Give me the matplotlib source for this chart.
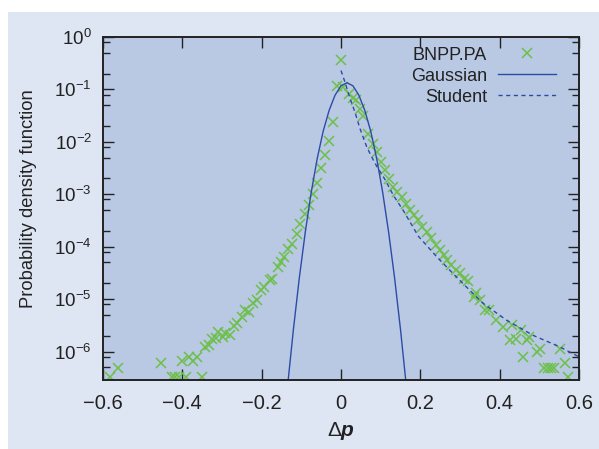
import numpy as np
import matplotlib.pyplot as plt
from matplotlib.ticker import LogLocator, NullFormatter
from matplotlib.patches import Rectangle

plt.rcParams['font.family'] = ['Liberation Sans', 'DejaVu Sans']
plt.rcParams['mathtext.fontset'] = 'custom'
plt.rcParams['mathtext.rm'] = 'Liberation Sans'
plt.rcParams['mathtext.it'] = 'Liberation Sans:italic'
plt.rcParams['mathtext.bf'] = 'Liberation Sans:bold'
plt.rcParams['mathtext.bfit'] = 'Liberation Sans:bold:italic'

# empirical pdf of price changes (x, log10 of density)
bnpp_x = [-0.583, -0.563, -0.453, -0.426, -0.418, -0.409, -0.401, -0.392, -0.382,
          -0.372, -0.363, -0.35, -0.342, -0.334, -0.325, -0.314, -0.309, -0.298,
          -0.292, -0.281, -0.269, -0.262, -0.25, -0.242, -0.231, -0.221, -0.212,
          -0.202, -0.195, -0.18, -0.174, -0.16, -0.151, -0.143, -0.133, -0.124,
          -0.111, -0.103, -0.09, -0.08, -0.07, -0.061, -0.05, -0.04, -0.031,
          -0.021, -0.011, 0.0, 0.006, 0.021, 0.031, 0.039, 0.048, 0.056, 0.069,
          0.08, 0.09, 0.1, 0.111, 0.121, 0.132, 0.142, 0.153, 0.164, 0.174,
          0.184, 0.195, 0.205, 0.216, 0.226, 0.239, 0.249, 0.26, 0.268, 0.278,
          0.289, 0.299, 0.309, 0.32, 0.335, 0.34, 0.351, 0.362, 0.373, 0.392,
          0.408, 0.425, 0.431, 0.44, 0.455, 0.46, 0.47, 0.475, 0.495, 0.502,
          0.513, 0.522, 0.53, 0.538, 0.551, 0.564, 0.572]
bnpp_log10 = [-6.48, -6.32, -6.21, -6.48, -6.48, -6.48, -6.19, -6.48, -6.10,
              -6.18, -6.10, -6.48, -5.91, -5.88, -5.77, -5.75, -5.62, -5.72,
              -5.64, -5.69, -5.51, -5.46, -5.34, -5.20, -5.24, -5.08, -5.02,
              -4.82, -4.77, -4.64, -4.61, -4.38, -4.29, -4.19, -4.05, -3.94,
              -3.75, -3.56, -3.38, -3.21, -2.99, -2.78, -2.50, -2.26, -1.98,
              -1.63, -0.94, -0.43, -0.96, -1.08, -1.17, -1.20, -1.37, -1.51, -1.85,
              -2.04, -2.20, -2.38, -2.54, -2.71, -2.86, -2.96, -3.06, -3.19, -3.30,
              -3.40, -3.50, -3.62, -3.72, -3.83, -3.97, -4.07, -4.16, -4.26, -4.35,
              -4.45, -4.50, -4.61, -4.65, -4.96, -4.88, -5.02, -5.21, -5.20, -5.40,
              -5.53, -5.78, -5.50, -5.77, -5.59, -6.10, -5.78, -5.72, -6.00, -5.96,
              -6.32, -6.32, -6.32, -6.32, -5.95, -6.21, -6.49]

# gaussian fit
gauss_x = [-0.135, -0.12, -0.105, -0.09, -0.075, -0.06, -0.045, -0.03, -0.015, 0.0,
           0.015, 0.03, 0.045, 0.06, 0.075, 0.09, 0.105, 0.12, 0.135, 0.15, 0.165]
gauss_log10 = [-6.68, -5.58, -4.59, -3.72, -2.96, -2.32, -1.80, -1.40, -1.11, -0.93,
               -0.873, -0.93, -1.11, -1.40, -1.80, -2.32, -2.96, -3.72, -4.59, -5.58, -6.68]

# student fit (x >= 0 only)
student_x = [0.0, 0.01, 0.023, 0.035, 0.048, 0.065, 0.085, 0.111, 0.132, 0.157,
             0.195, 0.241, 0.299, 0.358, 0.417, 0.484, 0.551, 0.6]
student_log10 = [-0.64, -0.86, -1.18, -1.43, -1.75, -2.10, -2.40, -2.72, -3.02, -3.31,
                 -3.80, -4.19, -4.64, -5.08, -5.40, -5.69, -5.91, -6.10]

xticks = [-0.6, -0.4, -0.2, 0, 0.2, 0.4, 0.6]
xticklabels = ['\u22120.6', '\u22120.4', '\u22120.2', '0', '0.2', '0.4', '0.6']

green = '#6cc04a'
blue = '#2c4ba6'
ink = '#222222'

fig = plt.figure(figsize=(5.99, 4.49), dpi=100, facecolor='white')
fig.patches.append(Rectangle((8 / 599, 0), 1, 1 - 12 / 449, transform=fig.transFigure,
                             facecolor='#dfe6f3', edgecolor='none', zorder=-1))
ax = fig.add_axes([103 / 599, 1 - 380 / 449, 476 / 599, 343 / 449])
ax.set_facecolor('#b9c9e4')

ax.plot(bnpp_x, 10 ** np.array(bnpp_log10), 'x', color=green, markersize=7,
        markeredgewidth=1.1, label='BNPP.PA')
ax.plot(gauss_x, 10 ** np.array(gauss_log10), '-', color=blue, lw=1.0, label='Gaussian')
ax.plot(student_x, 10 ** np.array(student_log10), '--', color=blue, lw=1.0,
        dashes=(3, 2.5), label='Student')

ax.set_yscale('log')
ax.set_xlim(-0.6, 0.6)
ax.set_ylim(10 ** -6.543, 1)
ax.yaxis.set_major_locator(LogLocator(base=10, numticks=20))
ax.yaxis.set_minor_locator(LogLocator(base=10, subs=[2, 5, 8], numticks=20))
ax.yaxis.set_minor_formatter(NullFormatter())
ax.set_xticks(xticks)
ax.set_xticklabels(xticklabels)

ax.tick_params(which='both', direction='in', top=True, right=True, width=1, colors=ink)
ax.tick_params(which='major', length=8)
ax.tick_params(which='minor', length=5)
ax.tick_params(axis='x', pad=10, labelsize=14.5)
ax.tick_params(axis='y', pad=8, labelsize=13.5)
for s in ax.spines.values():
    s.set_linewidth(1.4)
    s.set_color(ink)

ax.set_xlabel(r'$\Delta\mathbfit{p}$', fontsize=15, labelpad=5, color=ink)
ax.set_ylabel('Probability density function', fontsize=13.2, color=ink)
ax.yaxis.set_label_coords(-0.139, 0.528)

leg = ax.legend(loc='upper right', frameon=False, markerfirst=False, fontsize=13,
                handlelength=3.2, handletextpad=0.6, labelspacing=0.22,
                borderpad=0, borderaxespad=0, bbox_to_anchor=(0.951, 0.972))
for t in leg.get_texts():
    t.set_color(ink)

fig.savefig('out.png', dpi=100, facecolor=fig.get_facecolor())
